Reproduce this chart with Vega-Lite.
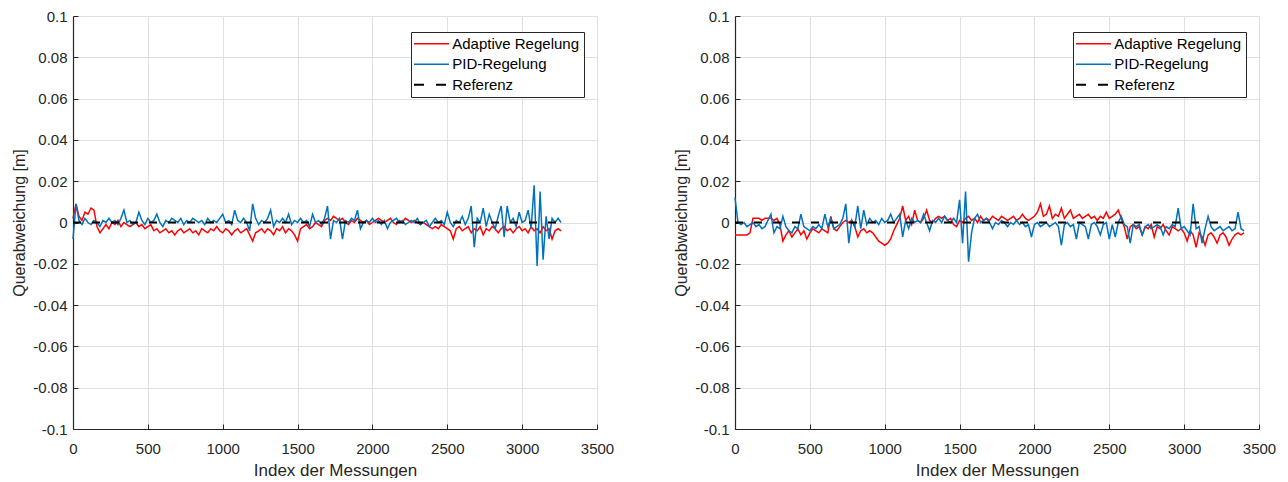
{
"$schema": "https://vega.github.io/schema/vega-lite/v6.json",
"padding": {"left": 11, "top": 9, "right": 0, "bottom": 0},
"spacing": 59,
"config": {
  "font": "Liberation Sans",
  "view": {"stroke": null},
  "axis": {"domainColor": "#262626", "domainWidth": 1.2, "tickColor": "#262626", "tickSize": -5, "tickWidth": 1, "labelColor": "#262626", "labelFont": "Liberation Sans", "labelFontSize": 15, "titleFont": "Liberation Sans", "titleColor": "#262626", "titleFontWeight": "normal", "gridColor": "#dfdfdf", "gridWidth": 1, "labelFlush": false, "labelOverlap": false, "labelBound": false},
  "axisX": {"labelPadding": 17, "titleFontSize": 17, "titlePadding": 6},
  "axisY": {"labelPadding": 11, "titleFontSize": 16, "titlePadding": 5},
  "legend": {"strokeColor": "#262626", "fillColor": "#ffffff", "padding": 4.25, "symbolType": "M-1,0H3", "symbolSize": 306, "symbolStrokeWidth": 1.5, "labelFont": "Liberation Sans", "labelFontSize": 15, "labelColor": "#000000", "labelOffset": 22, "rowPadding": 4.5}
},
"resolve": {"scale": {"color": "independent"}, "legend": {"color": "independent"}},
"datasets": {
"L": [
{"i":0,"a":0.002,"p":-0.008},{"i":20,"a":0.009,"p":0.009},{"i":40,"a":0.003,"p":0.001},{"i":60,"a":0.001,"p":-0.001},{"i":80,"a":0.005,"p":0.002},{"i":100,"a":0.004,"p":0},{"i":120,"a":0.007,"p":-0.001},{"i":140,"a":0.006,"p":0.001},{"i":160,"a":-0.002,"p":0},{"i":180,"a":-0.005,"p":-0.002},
{"i":200,"a":-0.003,"p":0.001},{"i":220,"a":-0.001,"p":0},{"i":240,"a":-0.003,"p":0.002},{"i":260,"a":0,"p":0},{"i":280,"a":-0.001,"p":0.001},{"i":300,"a":0.001,"p":-0.001},{"i":320,"a":-0.002,"p":0.002},{"i":340,"a":0,"p":0.006},{"i":360,"a":-0.001,"p":0},{"i":380,"a":-0.002,"p":0.001},
{"i":400,"a":-0.001,"p":-0.001},{"i":420,"a":0,"p":0},{"i":440,"a":-0.002,"p":0.005},{"i":460,"a":-0.001,"p":0.001},{"i":480,"a":-0.003,"p":-0.001},{"i":500,"a":-0.002,"p":0.002},{"i":520,"a":-0.001,"p":0},{"i":540,"a":-0.004,"p":0.001},{"i":560,"a":-0.003,"p":0.004},{"i":580,"a":-0.005,"p":0},
{"i":600,"a":-0.004,"p":-0.002},{"i":620,"a":-0.003,"p":0.001},{"i":640,"a":-0.005,"p":0},{"i":660,"a":-0.004,"p":0.002},{"i":680,"a":-0.006,"p":0.001},{"i":700,"a":-0.004,"p":0},{"i":720,"a":-0.003,"p":0.002},{"i":740,"a":-0.005,"p":-0.001},{"i":760,"a":-0.004,"p":0.001},{"i":780,"a":-0.003,"p":0},
{"i":800,"a":-0.005,"p":0.002},{"i":820,"a":-0.004,"p":0.001},{"i":840,"a":-0.006,"p":0},{"i":860,"a":-0.003,"p":0.001},{"i":880,"a":-0.004,"p":-0.001},{"i":900,"a":-0.005,"p":0.002},{"i":920,"a":-0.003,"p":0},{"i":940,"a":-0.004,"p":0.001},{"i":960,"a":-0.002,"p":0},{"i":980,"a":-0.004,"p":0.002},
{"i":1000,"a":-0.005,"p":0.004},{"i":1020,"a":-0.003,"p":0},{"i":1040,"a":-0.004,"p":0.001},{"i":1060,"a":-0.006,"p":-0.001},{"i":1080,"a":-0.004,"p":0.006},{"i":1100,"a":-0.003,"p":0.001},{"i":1120,"a":-0.005,"p":0},{"i":1140,"a":-0.004,"p":0.002},{"i":1160,"a":-0.003,"p":0},{"i":1180,"a":-0.006,"p":-0.004},
{"i":1200,"a":-0.009,"p":0.009},{"i":1220,"a":-0.005,"p":0.002},{"i":1240,"a":-0.004,"p":-0.001},{"i":1260,"a":-0.003,"p":0.001},{"i":1280,"a":-0.005,"p":0},{"i":1300,"a":-0.003,"p":0.002},{"i":1320,"a":-0.004,"p":0.006},{"i":1340,"a":-0.006,"p":-0.002},{"i":1360,"a":-0.003,"p":0.001},{"i":1380,"a":-0.004,"p":0},
{"i":1400,"a":-0.002,"p":0.002},{"i":1420,"a":-0.005,"p":0},{"i":1440,"a":-0.003,"p":0.004},{"i":1460,"a":-0.004,"p":-0.001},{"i":1480,"a":-0.006,"p":0.001},{"i":1500,"a":-0.009,"p":0},{"i":1520,"a":-0.003,"p":0.002},{"i":1540,"a":-0.002,"p":0},{"i":1560,"a":-0.001,"p":0.001},{"i":1580,"a":-0.003,"p":-0.002},
{"i":1600,"a":-0.002,"p":0.004},{"i":1620,"a":0,"p":0},{"i":1640,"a":-0.001,"p":0.001},{"i":1660,"a":-0.002,"p":-0.001},{"i":1680,"a":0.001,"p":0.002},{"i":1700,"a":0.002,"p":0.008},{"i":1720,"a":0.001,"p":-0.008},{"i":1740,"a":0.003,"p":0.001},{"i":1760,"a":0.002,"p":0},{"i":1780,"a":0.001,"p":0.002},
{"i":1800,"a":0.002,"p":-0.008},{"i":1820,"a":0,"p":0.001},{"i":1840,"a":-0.001,"p":0},{"i":1860,"a":0.001,"p":0.002},{"i":1880,"a":0,"p":0.001},{"i":1900,"a":0.002,"p":0.006},{"i":1920,"a":0.001,"p":-0.003},{"i":1940,"a":0,"p":0},{"i":1960,"a":0.001,"p":0.001},{"i":1980,"a":-0.001,"p":0},
{"i":2000,"a":0,"p":0.002},{"i":2020,"a":0.001,"p":0},{"i":2040,"a":0.002,"p":0.001},{"i":2060,"a":0.001,"p":-0.001},{"i":2080,"a":0,"p":0.001},{"i":2100,"a":0.001,"p":-0.003},{"i":2120,"a":0.002,"p":0},{"i":2140,"a":0,"p":0.001},{"i":2160,"a":-0.001,"p":0.002},{"i":2180,"a":0.001,"p":0},
{"i":2200,"a":0,"p":0.001},{"i":2220,"a":0.002,"p":-0.001},{"i":2240,"a":0.001,"p":0},{"i":2260,"a":0,"p":0.001},{"i":2280,"a":0.001,"p":0},{"i":2300,"a":0,"p":0.002},{"i":2320,"a":-0.001,"p":-0.001},{"i":2340,"a":0,"p":0},{"i":2360,"a":-0.001,"p":0.001},{"i":2380,"a":-0.002,"p":-0.002},
{"i":2400,"a":-0.003,"p":0},{"i":2420,"a":-0.002,"p":0.002},{"i":2440,"a":-0.003,"p":0},{"i":2460,"a":-0.001,"p":0.001},{"i":2480,"a":-0.002,"p":-0.001},{"i":2500,"a":-0.003,"p":0.005},{"i":2520,"a":-0.004,"p":0},{"i":2540,"a":-0.008,"p":-0.002},{"i":2560,"a":-0.003,"p":0.001},{"i":2580,"a":-0.002,"p":0},
{"i":2600,"a":-0.004,"p":0.003},{"i":2620,"a":-0.003,"p":-0.001},{"i":2640,"a":-0.002,"p":0.002},{"i":2660,"a":-0.005,"p":0.008},{"i":2680,"a":-0.003,"p":-0.012},{"i":2700,"a":-0.004,"p":0.002},{"i":2720,"a":-0.002,"p":0},{"i":2740,"a":-0.006,"p":0.007},{"i":2760,"a":-0.003,"p":-0.002},{"i":2780,"a":-0.004,"p":0.004},
{"i":2800,"a":-0.002,"p":0},{"i":2820,"a":-0.003,"p":-0.003},{"i":2840,"a":-0.005,"p":0.003},{"i":2860,"a":-0.003,"p":0.008},{"i":2880,"a":-0.002,"p":-0.007},{"i":2900,"a":-0.004,"p":0.008},{"i":2920,"a":-0.003,"p":0},{"i":2940,"a":-0.005,"p":0.002},{"i":2960,"a":-0.003,"p":-0.002},{"i":2980,"a":-0.002,"p":0.005},
{"i":3000,"a":-0.004,"p":0},{"i":3020,"a":-0.003,"p":0.001},{"i":3040,"a":-0.005,"p":0.006},{"i":3060,"a":-0.002,"p":-0.003},{"i":3080,"a":-0.004,"p":0.018},{"i":3100,"a":-0.003,"p":-0.021},{"i":3120,"a":-0.005,"p":0.015},{"i":3140,"a":-0.002,"p":-0.018},{"i":3160,"a":-0.004,"p":0.003},{"i":3180,"a":-0.003,"p":-0.008},
{"i":3200,"a":-0.008,"p":0.002},{"i":3220,"a":-0.004,"p":0},{"i":3240,"a":-0.003,"p":0.002},{"i":3260,"a":-0.004,"p":0}
],
"R": [
{"i":0,"a":-0.006,"p":0.012},{"i":20,"a":-0.006,"p":0},{"i":40,"a":-0.006,"p":-0.001},{"i":60,"a":-0.006,"p":0},{"i":80,"a":-0.006,"p":-0.002},{"i":100,"a":-0.005,"p":-0.001},{"i":120,"a":0.002,"p":0},{"i":140,"a":0.002,"p":-0.002},{"i":160,"a":0.002,"p":-0.001},{"i":180,"a":0.001,"p":-0.003},
{"i":200,"a":0.002,"p":-0.002},{"i":220,"a":0.002,"p":0.001},{"i":240,"a":0.002,"p":0.004},{"i":260,"a":0.001,"p":-0.005},{"i":280,"a":0.002,"p":-0.002},{"i":300,"a":-0.001,"p":-0.003},{"i":320,"a":-0.009,"p":0.003},{"i":340,"a":-0.006,"p":-0.002},{"i":360,"a":-0.004,"p":-0.004},{"i":380,"a":-0.007,"p":-0.005},
{"i":400,"a":-0.005,"p":-0.002},{"i":420,"a":-0.003,"p":-0.003},{"i":440,"a":-0.006,"p":0.004},{"i":460,"a":-0.004,"p":-0.002},{"i":480,"a":-0.008,"p":-0.003},{"i":500,"a":-0.005,"p":-0.004},{"i":520,"a":-0.003,"p":-0.002},{"i":540,"a":-0.004,"p":-0.003},{"i":560,"a":-0.005,"p":-0.001},{"i":580,"a":-0.003,"p":-0.003},
{"i":600,"a":-0.004,"p":0.004},{"i":620,"a":-0.005,"p":-0.002},{"i":640,"a":0.003,"p":0.002},{"i":660,"a":-0.003,"p":-0.003},{"i":680,"a":-0.004,"p":-0.002},{"i":700,"a":-0.002,"p":-0.001},{"i":720,"a":0,"p":0.002},{"i":740,"a":0.001,"p":0.009},{"i":760,"a":0,"p":-0.01},{"i":780,"a":0.001,"p":0.001},
{"i":800,"a":-0.002,"p":-0.002},{"i":820,"a":-0.007,"p":0.008},{"i":840,"a":-0.004,"p":-0.003},{"i":860,"a":-0.003,"p":0.006},{"i":880,"a":-0.005,"p":-0.001},{"i":900,"a":-0.004,"p":0.002},{"i":920,"a":-0.005,"p":0},{"i":940,"a":-0.007,"p":0.001},{"i":960,"a":-0.009,"p":-0.001},{"i":980,"a":-0.01,"p":0.002},
{"i":1000,"a":-0.011,"p":0},{"i":1020,"a":-0.01,"p":0.001},{"i":1040,"a":-0.008,"p":0.004},{"i":1060,"a":-0.004,"p":0},{"i":1080,"a":-0.001,"p":0.002},{"i":1100,"a":0.002,"p":0.004},{"i":1120,"a":0.008,"p":-0.007},{"i":1140,"a":0.001,"p":0.001},{"i":1160,"a":0.003,"p":-0.003},{"i":1180,"a":-0.001,"p":0.002},
{"i":1200,"a":0.006,"p":0},{"i":1220,"a":0.001,"p":0.001},{"i":1240,"a":0,"p":0},{"i":1260,"a":0.002,"p":0.004},{"i":1280,"a":0.006,"p":0},{"i":1300,"a":0.001,"p":-0.004},{"i":1320,"a":0,"p":0.001},{"i":1340,"a":0.002,"p":0},{"i":1360,"a":0.003,"p":0.002},{"i":1380,"a":0.002,"p":0},
{"i":1400,"a":0.003,"p":0.003},{"i":1420,"a":0.001,"p":0.001},{"i":1440,"a":0.002,"p":0},{"i":1460,"a":-0.001,"p":0.002},{"i":1480,"a":-0.002,"p":0},{"i":1500,"a":0.001,"p":0.011},{"i":1520,"a":0,"p":-0.01},{"i":1540,"a":0.002,"p":0.015},{"i":1560,"a":0.003,"p":-0.019},{"i":1580,"a":0.001,"p":-0.005},
{"i":1600,"a":0.002,"p":0.002},{"i":1620,"a":0,"p":0.004},{"i":1640,"a":0.003,"p":0},{"i":1660,"a":0.001,"p":0.001},{"i":1680,"a":0.002,"p":0.002},{"i":1700,"a":0.001,"p":0},{"i":1720,"a":0.003,"p":-0.003},{"i":1740,"a":0.002,"p":0},{"i":1760,"a":0.001,"p":-0.001},{"i":1780,"a":0.003,"p":0.001},
{"i":1800,"a":0.002,"p":0},{"i":1820,"a":0.001,"p":-0.002},{"i":1840,"a":0.002,"p":0},{"i":1860,"a":0.003,"p":-0.001},{"i":1880,"a":0.001,"p":0.001},{"i":1900,"a":0.002,"p":-0.001},{"i":1920,"a":0.004,"p":0},{"i":1940,"a":0.002,"p":-0.002},{"i":1960,"a":0.001,"p":-0.001},{"i":1980,"a":0.002,"p":-0.007},
{"i":2000,"a":0.003,"p":-0.001},{"i":2020,"a":0.005,"p":0},{"i":2040,"a":0.009,"p":-0.002},{"i":2060,"a":0.003,"p":-0.001},{"i":2080,"a":0.004,"p":0},{"i":2100,"a":0.008,"p":-0.002},{"i":2120,"a":0.002,"p":-0.001},{"i":2140,"a":0.004,"p":0},{"i":2160,"a":0.003,"p":-0.002},{"i":2180,"a":0.007,"p":-0.011},
{"i":2200,"a":0.002,"p":-0.001},{"i":2220,"a":0.004,"p":0},{"i":2240,"a":0.006,"p":-0.002},{"i":2260,"a":0.002,"p":-0.001},{"i":2280,"a":0.003,"p":-0.008},{"i":2300,"a":0.004,"p":0},{"i":2320,"a":0.002,"p":-0.001},{"i":2340,"a":0.003,"p":-0.002},{"i":2360,"a":0.004,"p":-0.008},{"i":2380,"a":0.002,"p":-0.001},
{"i":2400,"a":0.003,"p":0},{"i":2420,"a":0.001,"p":-0.002},{"i":2440,"a":0.003,"p":-0.006},{"i":2460,"a":0.002,"p":-0.001},{"i":2480,"a":0.005,"p":0},{"i":2500,"a":0.002,"p":-0.008},{"i":2520,"a":0.003,"p":-0.001},{"i":2540,"a":0.004,"p":-0.007},{"i":2560,"a":0.006,"p":0},{"i":2580,"a":0.002,"p":0.003},
{"i":2600,"a":-0.002,"p":-0.001},{"i":2620,"a":-0.008,"p":-0.002},{"i":2640,"a":-0.002,"p":-0.01},{"i":2660,"a":-0.001,"p":-0.001},{"i":2680,"a":-0.003,"p":-0.002},{"i":2700,"a":-0.002,"p":-0.001},{"i":2720,"a":-0.006,"p":-0.006},{"i":2740,"a":-0.002,"p":-0.002},{"i":2760,"a":-0.003,"p":-0.001},{"i":2780,"a":-0.001,"p":-0.003},
{"i":2800,"a":-0.007,"p":-0.002},{"i":2820,"a":-0.002,"p":-0.001},{"i":2840,"a":-0.003,"p":-0.002},{"i":2860,"a":-0.001,"p":-0.006},{"i":2880,"a":-0.004,"p":-0.002},{"i":2900,"a":-0.006,"p":-0.003},{"i":2920,"a":-0.002,"p":-0.001},{"i":2940,"a":-0.003,"p":-0.002},{"i":2960,"a":-0.004,"p":0.007},{"i":2980,"a":-0.003,"p":-0.003},
{"i":3000,"a":-0.005,"p":-0.002},{"i":3020,"a":-0.009,"p":-0.004},{"i":3040,"a":-0.004,"p":-0.006},{"i":3060,"a":-0.006,"p":0.009},{"i":3080,"a":-0.012,"p":-0.003},{"i":3100,"a":-0.005,"p":-0.002},{"i":3120,"a":-0.007,"p":-0.01},{"i":3140,"a":-0.011,"p":-0.003},{"i":3160,"a":-0.006,"p":0.003},{"i":3180,"a":-0.005,"p":-0.002},
{"i":3200,"a":-0.007,"p":-0.004},{"i":3220,"a":-0.01,"p":-0.003},{"i":3240,"a":-0.006,"p":-0.002},{"i":3260,"a":-0.005,"p":-0.004},{"i":3280,"a":-0.007,"p":-0.003},{"i":3300,"a":-0.011,"p":-0.002},{"i":3320,"a":-0.008,"p":-0.004},{"i":3340,"a":-0.006,"p":-0.003},{"i":3360,"a":-0.005,"p":0.005},{"i":3380,"a":-0.006,"p":-0.003},
{"i":3400,"a":-0.005,"p":-0.004}
],
"LR": [{"i":0,"v":0},{"i":3260,"v":0}],
"RR": [{"i":0,"v":0},{"i":3400,"v":0}]
},
"hconcat": [
{
 "width": 524, "height": 413,
 "encoding": {
  "x": {"field": "i", "type": "quantitative", "title": "Index der Messungen", "scale": {"domain": [0, 3500], "nice": false}, "axis": {"values": [0,500,1000,1500,2000,2500,3000,3500], "format": "d"}}
 },
 "layer": [
  {"data": {"name": "L"}, "mark": {"type": "line", "strokeWidth": 1.5},
   "encoding": {
    "y": {"field": "a", "type": "quantitative", "title": "Querabweichung [m]", "scale": {"domain": [-0.1, 0.1], "nice": false, "zero": false}, "axis": {"values": [-0.1,-0.08,-0.06,-0.04,-0.02,0,0.02,0.04,0.06,0.08,0.1], "labelExpr": "toString(datum.value)"}},
    "color": {"datum": "Adaptive Regelung", "type": "nominal", "scale": {"domain": ["Adaptive Regelung", "PID-Regelung", "Referenz"], "range": ["#ff0000", "#0072bd", "#000000"]},
     "legend": {"title": null, "orient": "none", "legendX": 338, "legendY": 16, "encode": {"symbols": {"update": {"fill": {"value": "transparent"}, "strokeDash": {"signal": "datum.value == 'Referenz' ? [10,12] : [1,0]"}, "strokeWidth": {"signal": "datum.value == 'Referenz' ? 2 : 1.5"}}}}}}
   }},
  {"data": {"name": "L"}, "mark": {"type": "line", "strokeWidth": 1.5},
   "encoding": {
    "y": {"field": "p", "type": "quantitative", "title": "Querabweichung [m]"},
    "color": {"datum": "PID-Regelung", "type": "nominal"}
   }},
  {"data": {"name": "LR"}, "mark": {"type": "line", "strokeWidth": 2, "strokeDash": [8, 11]},
   "encoding": {
    "y": {"field": "v", "type": "quantitative", "title": "Querabweichung [m]"},
    "color": {"datum": "Referenz", "type": "nominal"}
   }}
 ]
},
{
 "width": 524, "height": 413,
 "encoding": {
  "x": {"field": "i", "type": "quantitative", "title": "Index der Messungen", "scale": {"domain": [0, 3500], "nice": false}, "axis": {"values": [0,500,1000,1500,2000,2500,3000,3500], "format": "d"}}
 },
 "layer": [
  {"data": {"name": "R"}, "mark": {"type": "line", "strokeWidth": 1.5},
   "encoding": {
    "y": {"field": "a", "type": "quantitative", "title": "Querabweichung [m]", "scale": {"domain": [-0.1, 0.1], "nice": false, "zero": false}, "axis": {"values": [-0.1,-0.08,-0.06,-0.04,-0.02,0,0.02,0.04,0.06,0.08,0.1], "labelExpr": "toString(datum.value)"}},
    "color": {"datum": "Adaptive Regelung", "type": "nominal", "scale": {"domain": ["Adaptive Regelung", "PID-Regelung", "Referenz"], "range": ["#ff0000", "#0072bd", "#000000"]},
     "legend": {"title": null, "orient": "none", "legendX": 338, "legendY": 16, "encode": {"symbols": {"update": {"fill": {"value": "transparent"}, "strokeDash": {"signal": "datum.value == 'Referenz' ? [10,12] : [1,0]"}, "strokeWidth": {"signal": "datum.value == 'Referenz' ? 2 : 1.5"}}}}}}
   }},
  {"data": {"name": "R"}, "mark": {"type": "line", "strokeWidth": 1.5},
   "encoding": {
    "y": {"field": "p", "type": "quantitative", "title": "Querabweichung [m]"},
    "color": {"datum": "PID-Regelung", "type": "nominal"}
   }},
  {"data": {"name": "RR"}, "mark": {"type": "line", "strokeWidth": 2, "strokeDash": [8, 11]},
   "encoding": {
    "y": {"field": "v", "type": "quantitative", "title": "Querabweichung [m]"},
    "color": {"datum": "Referenz", "type": "nominal"}
   }}
 ]
}
]
}
